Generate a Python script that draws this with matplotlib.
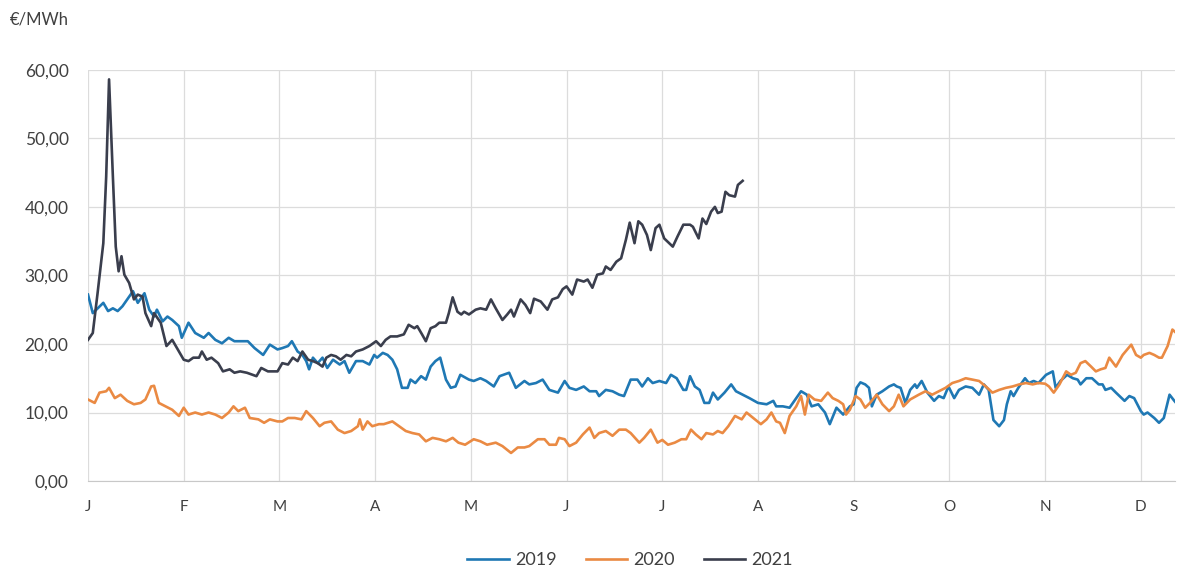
import matplotlib.pyplot as plt
from matplotlib.ticker import FuncFormatter

# posizione sull'asse (mesi dall'inizio dell'anno) e valori in €/MWh
x2019 = [0.00, 0.05, 0.16, 0.21, 0.26, 0.31, 0.36, 0.41, 0.47, 0.52, 0.59, 0.64, 0.69, 0.72, 0.78,
         0.83, 0.88, 0.95, 0.98, 1.05, 1.12, 1.21, 1.26, 1.33, 1.40, 1.47, 1.53, 1.60, 1.67, 1.74,
         1.83, 1.90, 1.98, 2.03, 2.09, 2.13, 2.19, 2.24, 2.28, 2.31, 2.35, 2.40, 2.45, 2.50, 2.56,
         2.63, 2.68, 2.73, 2.80, 2.87, 2.94, 2.99, 3.02, 3.08, 3.13, 3.18, 3.23, 3.28, 3.34, 3.37,
         3.42, 3.48, 3.53, 3.58, 3.63, 3.68, 3.74, 3.79, 3.84, 3.89, 3.98, 4.03, 4.10, 4.16, 4.24,
         4.30, 4.40, 4.47, 4.56, 4.61, 4.68, 4.75, 4.82, 4.91, 4.98, 5.03, 5.10, 5.18, 5.24, 5.31,
         5.34, 5.41, 5.48, 5.55, 5.60, 5.67, 5.74, 5.79, 5.85, 5.90, 5.97, 6.04, 6.09, 6.15, 6.22,
         6.25, 6.29, 6.34, 6.39, 6.44, 6.49, 6.53, 6.58, 6.65, 6.72, 6.77, 6.84, 6.91, 7.00, 7.09,
         7.16, 7.19, 7.26, 7.33, 7.40, 7.45, 7.51, 7.56, 7.63, 7.70, 7.75, 7.82, 7.89, 7.96, 8.00,
         8.03, 8.07, 8.12, 8.16, 8.19, 8.24, 8.30, 8.37, 8.42, 8.45, 8.49, 8.54, 8.59, 8.64, 8.66,
         8.71, 8.77, 8.84, 8.89, 8.94, 8.99, 9.05, 9.10, 9.17, 9.24, 9.31, 9.36, 9.41, 9.46, 9.52,
         9.57, 9.60, 9.64, 9.67, 9.72, 9.79, 9.83, 9.88, 9.93, 10.01, 10.08, 10.11, 10.16, 10.23,
         10.29, 10.34, 10.37, 10.43, 10.49, 10.56, 10.60, 10.63, 10.69, 10.74, 10.83, 10.88, 10.93,
         11.00, 11.03, 11.07, 11.14, 11.19, 11.24, 11.30, 11.35, 11.38]
v2019 = [27.2, 24.5, 26.0, 24.8, 25.2, 24.8, 25.5, 26.5, 27.7, 26.0, 27.4, 25.0, 24.0, 25.0, 23.3,
         24.0, 23.5, 22.6, 20.9, 23.1, 21.6, 20.9, 21.6, 20.6, 20.1, 20.9, 20.4, 20.4, 20.4, 19.4,
         18.4, 19.9, 19.2, 19.4, 19.7, 20.4, 18.9, 18.4, 17.5, 16.3, 18.0, 17.2, 18.0, 16.5, 17.7,
         17.0, 17.5, 15.8, 17.5, 17.5, 17.0, 18.4, 18.0, 18.7, 18.4, 17.7, 16.3, 13.6, 13.6, 14.8,
         14.3, 15.3, 14.8, 16.7, 17.5, 18.0, 14.8, 13.6, 13.8, 15.5, 14.8, 14.6, 15.0, 14.6, 13.8,
         15.3, 15.8, 13.6, 14.6, 14.1, 14.3, 14.8, 13.3, 12.9, 14.6, 13.6, 13.3, 13.8, 13.1, 13.1,
         12.4, 13.3, 13.1, 12.6, 12.4, 14.8, 14.8, 13.8, 15.0, 14.3, 14.6, 14.3, 15.5, 15.0, 13.3,
         13.3, 15.3, 13.8, 13.3, 11.4, 11.4, 12.9, 11.9, 12.9, 14.1, 13.1, 12.6, 12.1, 11.4, 11.2,
         11.7, 10.9, 10.9, 10.7, 12.1, 13.1, 12.6, 10.9, 11.2, 10.0, 8.3, 10.7, 9.7, 10.9, 11.2,
         13.6, 14.4, 14.1, 13.6, 10.9, 12.6, 13.1, 13.8, 14.1, 13.8, 13.6, 11.4, 13.3, 14.1, 13.6,
         14.6, 12.9, 11.7, 12.4, 12.1, 13.8, 12.1, 13.3, 13.8, 13.6, 12.6, 14.1, 13.3, 8.9, 8.0,
         8.9, 11.2, 13.1, 12.4, 13.6, 15.0, 14.3, 14.6, 14.3, 15.5, 16.0, 13.6, 14.6, 15.5,
         15.0, 14.8, 14.1, 15.0, 15.0, 14.1, 14.1, 13.3, 13.6, 12.9, 11.7, 12.4, 12.1,
         10.2, 9.7, 10.0, 9.2, 8.5, 9.2, 12.6, 11.7, 11.2]

x2020 = [0.00, 0.07, 0.12, 0.19, 0.22, 0.28, 0.34, 0.41, 0.48, 0.55, 0.60, 0.66, 0.69, 0.74, 0.81,
         0.88, 0.95, 1.00, 1.05, 1.12, 1.19, 1.26, 1.33, 1.40, 1.47, 1.52, 1.57, 1.64, 1.69, 1.78,
         1.84, 1.90, 1.98, 2.03, 2.09, 2.16, 2.23, 2.28, 2.35, 2.42, 2.47, 2.54, 2.61, 2.68, 2.75,
         2.82, 2.84, 2.87, 2.92, 2.97, 3.04, 3.09, 3.18, 3.25, 3.32, 3.39, 3.46, 3.53, 3.60, 3.67,
         3.74, 3.81, 3.87, 3.94, 4.03, 4.10, 4.17, 4.26, 4.33, 4.42, 4.49, 4.56, 4.61, 4.70, 4.77,
         4.82, 4.89, 4.92, 4.98, 5.03, 5.10, 5.17, 5.24, 5.29, 5.34, 5.41, 5.48, 5.55, 5.62, 5.67,
         5.76, 5.81, 5.88, 5.95, 6.00, 6.06, 6.13, 6.20, 6.25, 6.30, 6.35, 6.41, 6.46, 6.53, 6.58,
         6.63, 6.69, 6.76, 6.83, 6.88, 6.95, 7.03, 7.09, 7.14, 7.19, 7.23, 7.28, 7.33, 7.40, 7.45,
         7.49, 7.53, 7.59, 7.66, 7.73, 7.78, 7.84, 7.89, 7.92, 7.96, 8.02, 8.07, 8.12, 8.17, 8.24,
         8.30, 8.37, 8.42, 8.47, 8.52, 8.59, 8.68, 8.75, 8.82, 8.89, 8.96, 9.03, 9.10, 9.17, 9.24,
         9.31, 9.38, 9.45, 9.52, 9.59, 9.66, 9.73, 9.80, 9.87, 9.93, 10.00, 10.04, 10.09, 10.15,
         10.22, 10.27, 10.32, 10.37, 10.42, 10.48, 10.53, 10.58, 10.63, 10.67, 10.74, 10.81, 10.90,
         10.95, 11.00, 11.03, 11.09, 11.14, 11.19, 11.22, 11.28, 11.33, 11.37, 11.38]
v2020 = [11.9, 11.4, 12.9, 13.1, 13.6, 12.1, 12.6, 11.7, 11.2, 11.4, 11.9, 13.8, 13.9, 11.4, 10.9,
         10.4, 9.5, 10.7, 9.7, 10.0, 9.7, 10.0, 9.7, 9.2, 10.0, 10.9, 10.2, 10.7, 9.2, 9.0,
         8.5, 9.0, 8.7, 8.7, 9.2, 9.2, 9.0, 10.2, 9.2, 8.0, 8.5, 8.7, 7.5, 7.0, 7.3,
         8.0, 9.0, 7.5, 8.7, 8.0, 8.3, 8.3, 8.7, 8.0, 7.3, 7.0, 6.8, 5.8, 6.3, 6.1,
         5.8, 6.3, 5.6, 5.3, 6.1, 5.8, 5.3, 5.6, 5.1, 4.1, 4.9, 4.9, 5.1, 6.1, 6.1,
         5.3, 5.3, 6.3, 6.1, 5.1, 5.6, 6.8, 7.8, 6.3, 7.0, 7.3, 6.6, 7.5, 7.5, 7.0,
         5.6, 6.3, 7.5, 5.6, 6.0, 5.3, 5.6, 6.1, 6.1, 7.5, 6.8, 6.1, 7.0, 6.8, 7.3,
         7.0, 8.0, 9.5, 9.0, 10.0, 9.2, 8.3, 9.0, 10.0, 8.7, 8.5, 7.0, 9.5, 10.9, 12.4,
         9.7, 12.6, 11.9, 11.7, 12.9, 12.1, 11.7, 11.2, 9.7, 10.4, 12.4, 11.9, 10.7, 11.4, 12.6,
         11.2, 10.2, 10.9, 12.6, 10.9, 11.9, 12.6, 13.1, 12.6, 13.1, 13.6, 14.3, 14.6, 15.0, 14.8,
         14.6, 13.8, 12.9, 13.3, 13.6, 13.8, 14.1, 14.3, 14.1, 14.3, 14.2, 13.8, 12.9, 14.1,
         16.0, 15.5, 15.8, 17.2, 17.5, 16.7, 16.0, 16.3, 16.5, 18.0, 16.7, 18.4, 19.9,
         18.4, 18.0, 18.4, 18.7, 18.4, 18.0, 18.0, 19.7, 22.1, 21.6, 20.9]

x2021 = [0.00, 0.05, 0.10, 0.16, 0.19, 0.22, 0.26, 0.29, 0.32, 0.35, 0.38, 0.43, 0.48, 0.52, 0.57,
         0.60, 0.66, 0.69, 0.76, 0.82, 0.88, 0.95, 1.00, 1.05, 1.10, 1.16, 1.19, 1.24, 1.29, 1.36,
         1.41, 1.48, 1.53, 1.59, 1.66, 1.72, 1.76, 1.81, 1.88, 1.98, 2.03, 2.09, 2.14, 2.19, 2.24,
         2.30, 2.35, 2.40, 2.45, 2.49, 2.54, 2.59, 2.64, 2.70, 2.75, 2.80, 2.87, 2.94, 3.01, 3.06,
         3.11, 3.16, 3.23, 3.30, 3.35, 3.41, 3.44, 3.49, 3.53, 3.58, 3.63, 3.67, 3.74, 3.77, 3.81,
         3.86, 3.90, 3.93, 3.98, 4.05, 4.10, 4.16, 4.21, 4.26, 4.33, 4.38, 4.42, 4.45, 4.52, 4.57,
         4.62, 4.66, 4.73, 4.80, 4.85, 4.91, 4.96, 5.00, 5.06, 5.11, 5.18, 5.22, 5.27, 5.32, 5.38,
         5.41, 5.46, 5.52, 5.57, 5.62, 5.66, 5.71, 5.75, 5.79, 5.84, 5.88, 5.93, 5.97, 6.02, 6.11,
         6.16, 6.22, 6.29, 6.32, 6.38, 6.42, 6.46, 6.51, 6.55, 6.58, 6.62, 6.66, 6.70, 6.76, 6.79,
         6.84]
v2021 = [20.6, 21.6, 27.4, 34.7, 44.4, 58.6, 44.4, 34.2, 30.6, 32.8, 30.1, 28.9, 26.5, 27.2, 26.9,
         24.5, 22.6, 24.5, 23.1, 19.7, 20.6, 18.9, 17.7, 17.5, 18.0, 18.0, 18.9, 17.7, 18.0, 17.2,
         16.0, 16.3, 15.8, 16.0, 15.8, 15.5, 15.3, 16.5, 16.0, 16.0, 17.2, 17.0, 18.0, 17.5, 18.9,
         17.7, 17.5, 17.2, 16.7, 18.0, 18.4, 18.2, 17.7, 18.4, 18.2, 18.9, 19.2, 19.7, 20.4, 19.7,
         20.6, 21.1, 21.1, 21.4, 22.8, 22.3, 22.6, 21.4, 20.4, 22.3, 22.6, 23.1, 23.1, 24.5, 26.8,
         24.7, 24.3, 24.7, 24.3, 25.0, 25.2, 25.0, 26.5, 25.2, 23.5, 24.3, 25.0, 24.0, 26.5, 25.7,
         24.5, 26.6, 26.2, 25.0, 26.5, 26.8, 28.0, 28.4, 27.2, 29.4, 29.1, 29.4, 28.2, 30.1, 30.3,
         31.3, 30.8, 32.0, 32.5, 35.2, 37.7, 34.7, 37.9, 37.4, 35.9, 33.7, 36.9, 37.4, 35.4, 34.2,
         35.7, 37.4, 37.4, 37.1, 35.4, 38.3, 37.5, 39.3, 40.0, 39.1, 39.3, 42.2, 41.7, 41.5, 43.2,
         43.8]

mesi = ['J', 'F', 'M', 'A', 'M', 'J', 'J', 'A', 'S', 'O', 'N', 'D']

plt.rcParams['font.family'] = ['Lato', 'DejaVu Sans']

fig = plt.figure(figsize=(11.78, 5.72), dpi=100)
ax = fig.add_axes([0.0747, 0.159, 0.923, 0.719])

ax.plot(x2019, v2019, color='#1f78b4', lw=1.9, label='2019')
ax.plot(x2020, v2020, color='#ea8a43', lw=1.9, label='2020')
ax.plot(x2021, v2021, color='#3a3e4d', lw=1.9, label='2021')

ax.set_xlim(0, 11.36)
ax.set_ylim(0, 60)
ax.set_xticks(range(12))
ax.set_xticklabels(mesi)
ax.set_yticks(range(0, 61, 10))
ax.yaxis.set_major_formatter(FuncFormatter(lambda v, p: f'{v:.2f}'.replace('.', ',')))
ax.tick_params(axis='both', length=0, colors='#404040')
ax.tick_params(axis='y', labelsize=12.5, pad=14)
ax.tick_params(axis='x', labelsize=11, pad=14)

ax.grid(True, color='#dcdcdc', lw=0.9)
ax.set_axisbelow(True)
for s in ['top', 'right', 'left']:
    ax.spines[s].set_visible(False)
ax.spines['bottom'].set_color('#c8c8c8')

fig.text(0.008, 0.958, '€/MWh', fontsize=12, color='#404040')

fig.legend(loc='center', bbox_to_anchor=(0.535, 0.021), ncol=3, frameon=False,
           fontsize=13, handlelength=2.3, columnspacing=1.6, handletextpad=0.35,
           labelcolor='#404040')

fig.savefig('out.png', dpi=100)
